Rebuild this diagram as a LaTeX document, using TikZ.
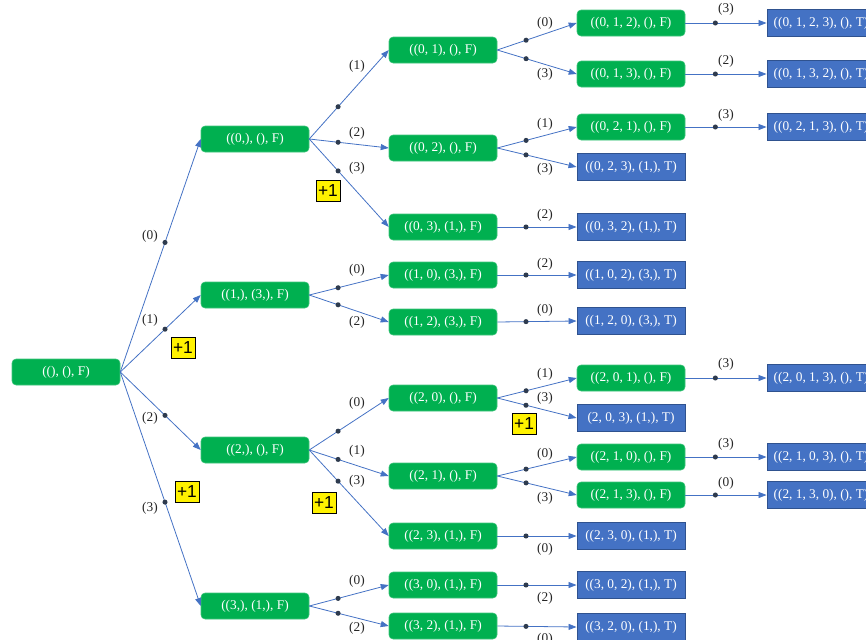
\documentclass[tikz,border=0pt]{standalone}
\usepackage{fontspec}
\setmainfont{Liberation Serif}
\newfontfamily\arialfont{Liberation Sans}
\usepackage{tikz}
\usetikzlibrary{arrows.meta}
\definecolor{gbox}{HTML}{00B050}
\definecolor{bbox}{HTML}{4472C4}
\definecolor{bline}{HTML}{2F528F}
\definecolor{dotc}{HTML}{2E3B4E}
\tikzstyle{open}=[fill=gbox,draw=gbox!75!white,line width=0.4pt,rounded corners=3pt,text=white,
  minimum width=81pt,minimum height=19.5pt,inner sep=0pt,font=\fontsize{10}{11}\selectfont]
\tikzstyle{done}=[fill=bbox,draw=bline,line width=0.7pt,text=white,
  minimum width=81pt,minimum height=20pt,inner sep=0pt,font=\fontsize{10}{11}\selectfont]
\tikzstyle{move}=[draw=bbox,line width=0.6pt,-{Triangle[length=6pt,width=4.5pt]}]
\tikzstyle{joint}=[circle,fill=dotc,inner sep=0pt,minimum size=3.8pt]
\tikzstyle{lbl}=[text=black!85,inner sep=0pt,font=\fontsize{10}{11}\selectfont]
\tikzstyle{bonus}=[draw=black,fill=yellow,line width=0.6pt,inner sep=0pt,
  minimum width=18pt,minimum height=15.5pt,font=\arialfont\fontsize{13}{13}\selectfont]

\begin{document}
\begin{tikzpicture}[x=0.75pt,y=-0.75pt]
  \useasboundingbox (0,0) rectangle (866,639);
  \clip (0,0) rectangle (866,639);

  % ROOT
  \node[open] (r) at (66,372) {((), (), F)};

  % LEVEL 1
  \node[open] (s0) at (255,139) {((0,), (), F)};
  \node[open] (s1) at (255,295) {((1,), (3,), F)};
  \node[open] (s2) at (255,450) {((2,), (), F)};
  \node[open] (s3) at (255,606) {((3,), (1,), F)};

  % LEVEL 2
  \node[open] (s01) at (443,50)  {((0, 1), (), F)};
  \node[open] (s02) at (443,148) {((0, 2), (), F)};
  \node[open] (s03) at (443,227) {((0, 3), (1,), F)};
  \node[open] (s10) at (443,275) {((1, 0), (3,), F)};
  \node[open] (s12) at (443,322) {((1, 2), (3,), F)};
  \node[open] (s20) at (443,398) {((2, 0), (), F)};
  \node[open] (s21) at (443,476) {((2, 1), (), F)};
  \node[open] (s23) at (443,536) {((2, 3), (1,), F)};
  \node[open] (s30) at (443,585) {((3, 0), (1,), F)};
  \node[open] (s32) at (443,626) {((3, 2), (1,), F)};

  % LEVEL 3
  \node[open] (s012) at (631,23)  {((0, 1, 2), (), F)};
  \node[open] (s013) at (631,74)  {((0, 1, 3), (), F)};
  \node[open] (s021) at (631,127) {((0, 2, 1), (), F)};
  \node[done] (s023) at (631,167) {((0, 2, 3), (1,), T)};
  \node[done] (s032) at (631,227) {((0, 3, 2), (1,), T)};
  \node[done] (s102) at (631,275) {((1, 0, 2), (3,), T)};
  \node[done] (s120) at (631,321) {((1, 2, 0), (3,), T)};
  \node[open] (s201) at (631,378) {((2, 0, 1), (), F)};
  \node[done] (s203) at (631,418) {(2, 0, 3), (1,), T)};
  \node[open] (s210) at (631,457) {((2, 1, 0), (), F)};
  \node[open] (s213) at (631,495) {((2, 1, 3), (), F)};
  \node[done] (s230) at (631,536) {((2, 3, 0), (1,), T)};
  \node[done] (s302) at (631,585) {((3, 0, 2), (1,), T)};
  \node[done] (s320) at (631,627) {((3, 2, 0), (1,), T)};

  % LEVEL 4
  \node[done] (s0123) at (821,23)  {((0, 1, 2, 3), (), T)};
  \node[done] (s0132) at (821,74)  {((0, 1, 3, 2), (), T)};
  \node[done] (s0213) at (821,127) {((0, 2, 1, 3), (), T)};
  \node[done] (s2013) at (821,378) {((2, 0, 1, 3), (), T)};
  \node[done] (s2103) at (821,457) {((2, 1, 0, 3), (), T)};
  \node[done] (s2130) at (821,495) {((2, 1, 3, 0), (), T)};

  % MOVES
  \foreach \a/\b/\t/\lx/\ly in {r/s0/0/150/236, r/s1/1/150/320, r/s2/2/150/418, r/s3/3/150/508}{
    \draw[move] (\a.east) -- node[joint,pos=0.556] (d-\b) {} (\b.west);
    \node[lbl] (l-\b) at (\lx,\ly) {(\t)};
  }
  \foreach \a/\b/\t/\lx/\ly in {
      s0/s01/1/357/66, s0/s02/2/357/133, s0/s03/3/357/168,
      s1/s10/0/357/270, s1/s12/2/357/322,
      s2/s20/0/357/403, s2/s21/1/357/451, s2/s23/3/357/481,
      s3/s30/0/357/581, s3/s32/2/357/628,
      s01/s012/0/545/23, s01/s013/3/545/74,
      s02/s021/1/545/124, s02/s023/3/545/169,
      s03/s032/2/545/215, s10/s102/2/545/264, s12/s120/0/545/310,
      s20/s201/1/545/374, s20/s203/3/545/398,
      s21/s210/0/545/454, s21/s213/3/545/498,
      s23/s230/0/545/549, s30/s302/2/545/598, s32/s320/0/545/639}{
    \draw[move] (\a.east) -- node[joint,pos=0.3625] (d-\b) {} (\b.west);
    \node[lbl] (l-\b) at (\lx,\ly) {(\t)};
  }
  \foreach \a/\b/\t/\lx/\ly in {s012/s0123/3/726/9, s013/s0132/2/726/61, s021/s0213/3/726/115,
      s201/s2013/3/726/364, s210/s2103/3/726/444, s213/s2130/0/726/483}{
    \draw[move] (\a.east) -- node[joint,pos=0.37] (d-\b) {} (\b.west);
    \node[lbl] (l-\b) at (\lx,\ly) {(\t)};
  }

  % BONUS
  \node[bonus] (p1) at (183,348) {+1};
  \node[bonus] (p2) at (187,492) {+1};
  \node[bonus] (p3) at (328,191) {+1};
  \node[bonus] (p4) at (324,503) {+1};
  \node[bonus] (p5) at (524,424) {+1};
\end{tikzpicture}
\end{document}
